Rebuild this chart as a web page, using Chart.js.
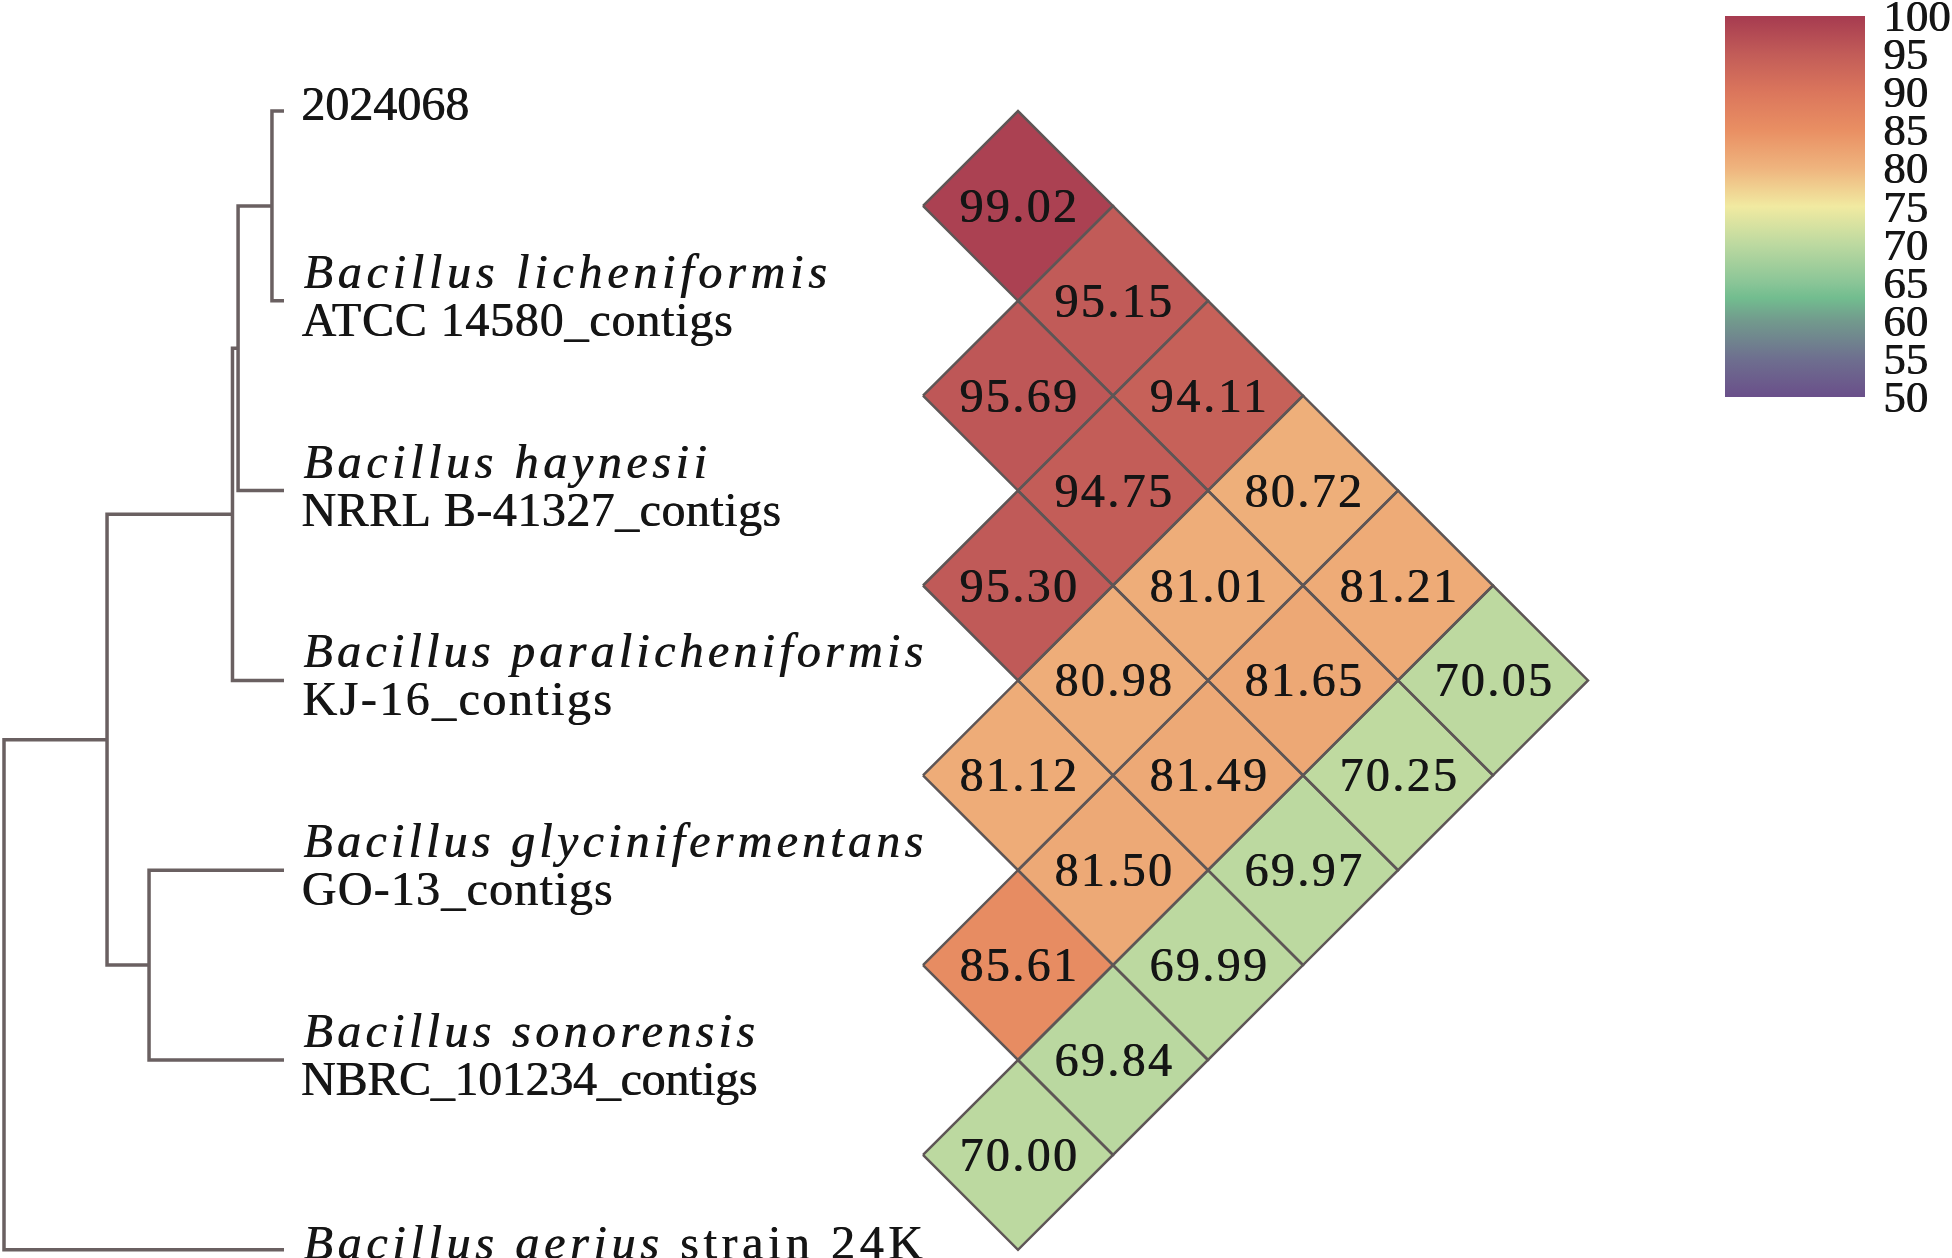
<!DOCTYPE html>
<html>
<head>
<meta charset="utf-8">
<script src="https://cdn.jsdelivr.net/npm/chart.js@4.4.1/dist/chart.umd.min.js"></script>
<style>
html,body{margin:0;padding:0;background:#fff;overflow:hidden;}
#wrap{position:relative;width:1952px;height:1258px;}
#aniChart{position:absolute;left:0;top:0;}
#barChart{position:absolute;left:1725px;top:0;}
</style>
</head>
<body>
<div id="wrap">
<canvas id="aniChart" width="1952" height="1258"></canvas>
<canvas id="barChart" width="227" height="420"></canvas>
</div>
<script>
// taxa, top to bottom
const leafLine1 = ['2024068', 'Bacillus licheniformis', 'Bacillus haynesii', 'Bacillus paralicheniformis',
                   'Bacillus glycinifermentans', 'Bacillus sonorensis', 'Bacillus aerius strain 24K'];
const leafLine2 = ['', 'ATCC 14580_contigs', 'NRRL B-41327_contigs', 'KJ-16_contigs',
                   'GO-13_contigs', 'NBRC_101234_contigs', ''];

// ANI (%) by distance between taxa: aniGap1[i] = taxon i vs i+1, aniGap2[i] = i vs i+2 ...
const aniGap1 = [99.02, 95.69, 95.30, 81.12, 85.61, 70.00];
const aniGap2 = [95.15, 94.75, 80.98, 81.50, 69.84];
const aniGap3 = [94.11, 81.01, 81.49, 69.99];
const aniGap4 = [80.72, 81.65, 69.97];
const aniGap5 = [81.21, 70.25];
const aniGap6 = [70.05];

// dendrogram: internal nodes, their two children (taxon index or node name) and height (root = 1)
const treeNodes  = ['n1', 'n2', 'n3', 'n4', 'n5', 'root'];
const treeChildA = [0, 'n1', 'n2', 4, 'n3', 'n5'];
const treeChildB = [1, 2, 3, 5, 'n4', 6];
const treeHeight = [0.043, 0.164, 0.184, 0.482, 0.632, 1.0];

// colour scale
const scaleMin = 50, scaleMax = 100;
const colorTicks = [100, 95, 90, 85, 80, 75, 70, 65, 60, 55, 50];
const cmapStops  = [50, 55, 60, 63, 65, 70, 75, 80, 85, 90, 95, 100];
const cmapColors = ['#6a4f8a', '#6e6f8f', '#729a8d', '#72bd8f', '#8ac597', '#bcd9a0',
                    '#f1eaa1', '#efb47e', '#e98f63', '#db765c', '#c25c58', '#a63b50'];

// layout
const W = 1952, H = 1258;
const treeLeafPx = 284, treeRootPx = 4;
const rowPx0 = 111, rowStep = 189.8;
const colPx0 = 1018, colStep = 95;
const FONT = '"Liberation Serif", "Times New Roman", serif';
const TEXT = '#151515';

function hexRgb(h) {
  return [parseInt(h.slice(1, 3), 16), parseInt(h.slice(3, 5), 16), parseInt(h.slice(5, 7), 16)];
}
function cmap(v) {
  let k = 0;
  while (k < cmapStops.length - 2 && v > cmapStops[k + 1]) k++;
  const t = Math.max(0, Math.min(1, (v - cmapStops[k]) / (cmapStops[k + 1] - cmapStops[k])));
  const a = hexRgb(cmapColors[k]), b = hexRgb(cmapColors[k + 1]);
  const c = a.map((x, i) => Math.round(x + (b[i] - x) * t));
  return 'rgb(' + c.join(',') + ')';
}

// whole-string text spread to a fixed cell width per character (CJK half-width look)
function drawSpread(ctx, text, x, baseline, adv, size, italic) {
  if (!text) return;
  const font = (italic ? 'italic ' : '') + size + 'px ' + FONT;
  ctx.font = font;
  ctx.letterSpacing = '0px';
  const natural = ctx.measureText(text).width;
  const ls = (text.length * adv - natural) / text.length;
  ctx.font = font;
  ctx.letterSpacing = ls.toFixed(2) + 'px';
  ctx.textAlign = 'left';
  ctx.textBaseline = 'alphabetic';
  ctx.fillStyle = TEXT;
  ctx.fillText(text, x + ls / 2, baseline);
  ctx.fillText(text, x + ls / 2 + 0.7, baseline);
  ctx.letterSpacing = '0px';
}
function drawLabelLine(ctx, line, x, baseline) {
  const parts = line.split(' ');
  if (parts[0] === 'Bacillus') {
    const n = parts[0].length + 1 + parts[1].length;
    drawSpread(ctx, line.slice(0, n), x, baseline, 24, 48, true);
    drawSpread(ctx, line.slice(n), x + n * 24, baseline, 24, 48, false);
  } else {
    drawSpread(ctx, line, x, baseline, 24, 48, false);
  }
}

// tree datasets
const nodePos = {};
function childPos(c) {
  return typeof c === 'number' ? { y: c, h: 0 } : nodePos[c];
}
const treeSets = treeNodes.map((name, k) => {
  const a = childPos(treeChildA[k]), b = childPos(treeChildB[k]);
  const h = treeHeight[k];
  nodePos[name] = { y: (a.y + b.y) / 2, h: h };
  return {
    type: 'line', xAxisID: 'xTree', yAxisID: 'y',
    data: [{ x: a.h, y: a.y }, { x: h, y: a.y }, { x: h, y: b.y }, { x: b.h, y: b.y }],
    borderColor: '#6a6061', borderWidth: 3.5, fill: false, pointRadius: 0, tension: 0,
    borderCapStyle: 'butt', borderJoinStyle: 'miter'
  };
});

// heatmap diamonds
const aniGaps = [aniGap1, aniGap2, aniGap3, aniGap4, aniGap5, aniGap6];
const cells = [];
aniGaps.forEach((vals, g) => vals.forEach((v, i) => {
  cells.push({ v: v, cx: g, cy: (i + i + g + 1) / 2 });
}));
const heatSets = cells.map(c => ({
  type: 'line', xAxisID: 'xHeat', yAxisID: 'y',
  data: [{ x: c.cx - 1, y: c.cy }, { x: c.cx, y: c.cy - 0.5 }, { x: c.cx + 1, y: c.cy },
         { x: c.cx, y: c.cy + 0.5 }, { x: c.cx - 1, y: c.cy }],
  backgroundColor: cmap(c.v), borderColor: '#5e5656', borderWidth: 2.5,
  fill: 'shape', pointRadius: 0, tension: 0, borderJoinStyle: 'miter'
}));

const textPlugin = {
  id: 'texts',
  afterDatasetsDraw(chart) {
    const ctx = chart.ctx;
    const xh = chart.scales.xHeat, xt = chart.scales.xTree, ys = chart.scales.y;
    cells.forEach(c => {
      const s = c.v.toFixed(2);
      const px = xh.getPixelForValue(c.cx), py = ys.getPixelForValue(c.cy);
      drawSpread(ctx, s, px - s.length * 12, py + 16, 24, 48, false);
    });
    const lx = xt.getPixelForValue(0) + 17;
    leafLine1.forEach((l1, i) => {
      const py = ys.getPixelForValue(i);
      if (leafLine2[i]) {
        drawLabelLine(ctx, l1, lx, py - 13);
        drawLabelLine(ctx, leafLine2[i], lx, py + 35);
      } else {
        drawLabelLine(ctx, l1, lx, py + 9);
      }
    });
  }
};

const barTicksPlugin = {
  id: 'barTicks',
  afterDraw(chart) {
    const ctx = chart.ctx, ys = chart.scales.y, area = chart.chartArea;
    colorTicks.forEach(v => {
      ctx.font = '45px ' + FONT;
      ctx.fillStyle = TEXT;
      ctx.textAlign = 'left';
      ctx.textBaseline = 'alphabetic';
      const py = ys.getPixelForValue(v) + 15;
      ctx.fillText(String(v), area.right + 18, py);
      ctx.fillText(String(v), area.right + 18.7, py);
    });
  }
};

const rowMin = -rowPx0 / rowStep;
const colMin = -colPx0 / colStep;
const treeUnit = treeLeafPx - treeRootPx;
const treeMax = treeLeafPx / treeUnit;

const aniChart = new Chart(document.getElementById('aniChart'), {
  type: 'line',
  data: { datasets: treeSets.concat(heatSets) },
  options: {
    responsive: false,
    animation: false,
    events: [],
    layout: { padding: 0 },
    plugins: {
      legend: { display: false },
      tooltip: { enabled: false },
      filler: { drawTime: 'beforeDatasetsDraw' }
    },
    scales: {
      xTree: { type: 'linear', display: false, reverse: true, min: treeMax - W / treeUnit, max: treeMax },
      xHeat: { type: 'linear', display: false, min: colMin, max: colMin + W / colStep },
      y: { type: 'linear', display: false, reverse: true, min: rowMin, max: rowMin + H / rowStep }
    }
  },
  plugins: [textPlugin]
});

// colour bar
const barChart = new Chart(document.getElementById('barChart'), {
  type: 'bar',
  data: {
    labels: ['ANI'],
    datasets: [{
      data: [[scaleMin, scaleMax]],
      backgroundColor(context) {
        const chart = context.chart, area = chart.chartArea;
        if (!area) return cmapColors[0];
        const ys = chart.scales.y;
        const g = chart.ctx.createLinearGradient(0, ys.getPixelForValue(scaleMin), 0, ys.getPixelForValue(scaleMax));
        cmapStops.forEach((s, k) => g.addColorStop((s - scaleMin) / (scaleMax - scaleMin), cmapColors[k]));
        return g;
      },
      borderWidth: 0,
      barPercentage: 1,
      categoryPercentage: 1
    }]
  },
  options: {
    responsive: false,
    animation: false,
    events: [],
    layout: { padding: { top: 16, bottom: 23, left: 0, right: 87 } },
    plugins: { legend: { display: false }, tooltip: { enabled: false } },
    scales: {
      x: { display: false },
      y: { display: false, min: scaleMin, max: scaleMax }
    }
  },
  plugins: [barTicksPlugin]
});
</script>
</body>
</html>
